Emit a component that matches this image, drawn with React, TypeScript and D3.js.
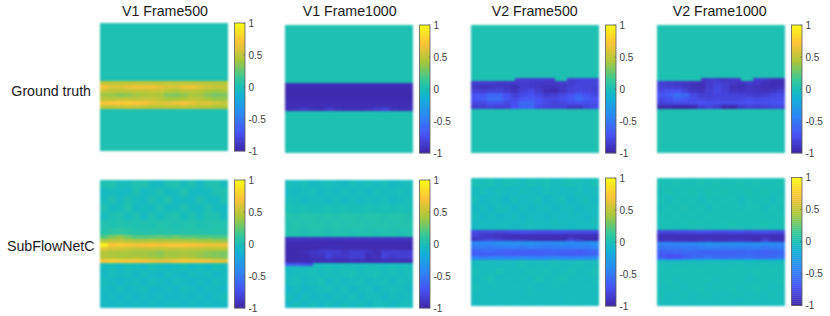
import React from 'react';
import * as d3 from 'd3';

// parula colour anchors and where they sit on the -1..1 scale
const parulaStops = ['#3e26a8', '#4852f4', '#2d87f7', '#12b1d6', '#1abfb5', '#37c897', '#abc739', '#fec338', '#f9fb14'];
const parulaValues = [-1, -0.714, -0.429, -0.143, 0, 0.143, 0.429, 0.714, 1];
const colorbarTicks = [1, 0.5, 0, -0.5, -1];

const titles = ['V1 Frame500', 'V1 Frame1000', 'V2 Frame500', 'V2 Frame1000'];
const rowLabels = ['Ground truth', 'SubFlowNetC'];

// a strip = [first row, last row, values], rows are in heatmap units (0-32 from the top)
type Strip = [number, number, number[][]];

const flat = [[0.02]];

const truthV1F500: Strip[] = [
  [0, 32, flat],
  [14.5, 21.5, [
    [0.5, 0.5, 0.5, 0.51, 0.51, 0.51, 0.5, 0.5, 0.51, 0.51, 0.5, 0.49, 0.49, 0.48, 0.47, 0.46],
    [0.68, 0.6, 0.6, 0.64, 0.66, 0.66, 0.66, 0.62, 0.58, 0.56, 0.64, 0.66, 0.6, 0.56, 0.52, 0.52],
    [0.52, 0.5, 0.5, 0.5, 0.52, 0.52, 0.54, 0.52, 0.46, 0.44, 0.49, 0.5, 0.48, 0.42, 0.4, 0.42],
    [0.4, 0.38, 0.33, 0.35, 0.4, 0.42, 0.44, 0.42, 0.33, 0.31, 0.35, 0.42, 0.4, 0.33, 0.29, 0.31],
    [0.48, 0.48, 0.5, 0.5, 0.5, 0.52, 0.52, 0.48, 0.42, 0.42, 0.44, 0.5, 0.48, 0.42, 0.38, 0.38],
    [0.7, 0.72, 0.74, 0.76, 0.72, 0.7, 0.64, 0.6, 0.62, 0.66, 0.7, 0.64, 0.58, 0.62, 0.56, 0.52],
    [0.5, 0.5, 0.52, 0.54, 0.52, 0.5, 0.48, 0.48, 0.49, 0.49, 0.5, 0.49, 0.48, 0.47, 0.44, 0.44],
  ]],
];

const truthV1F1000: Strip[] = [
  [0, 32, flat],
  [14.5, 21.5, [
    [-0.95, -0.95, -0.95, -0.95, -0.95, -0.95, -0.95, -0.95, -0.95, -0.95, -0.95, -0.95, -0.95, -0.95, -0.95, -0.95],
    [-0.96, -0.96, -0.96, -0.96, -0.96, -0.96, -0.96, -0.96, -0.96, -0.96, -0.96, -0.96, -0.96, -0.96, -0.96, -0.96],
    [-0.97, -0.97, -0.97, -0.97, -0.97, -0.97, -0.97, -0.97, -0.97, -0.97, -0.97, -0.97, -0.97, -0.97, -0.97, -0.97],
    [-0.97, -0.97, -0.97, -0.97, -0.97, -0.97, -0.97, -0.97, -0.97, -0.97, -0.97, -0.97, -0.97, -0.97, -0.97, -0.97],
    [-0.96, -0.96, -0.96, -0.96, -0.96, -0.96, -0.96, -0.96, -0.96, -0.96, -0.96, -0.96, -0.96, -0.96, -0.96, -0.96],
    [-0.95, -0.95, -0.95, -0.95, -0.95, -0.95, -0.95, -0.95, -0.95, -0.95, -0.95, -0.95, -0.95, -0.95, -0.95, -0.95],
    [-0.94, -0.92, -0.9, -0.93, -0.94, -0.88, -0.92, -0.94, -0.94, -0.94, -0.92, -0.88, -0.84, -0.92, -0.94, -0.94],
  ]],
];

const truthV2F500: Strip[] = [
  [0, 32, flat],
  [13.25, 14, [
    [0.02, 0.02, 0.02, 0.02, 0.02, 0.02, 0.02, 0.02, 0.02, 0.02, 0.02, -0.84, -0.84, -0.84, -0.84, -0.84,
      -0.84, -0.84, -0.84, -0.84, -0.84, 0.02, 0.02, 0.02, -0.84, -0.84, -0.82, -0.82, -0.8, -0.8, -0.8, -0.8],
  ]],
  [14, 21, [
    [-0.86, -0.86, -0.86, -0.88, -0.88, -0.88, -0.86, -0.86, -0.88, -0.88, -0.88, -0.86, -0.84, -0.82, -0.8, -0.8],
    [-0.88, -0.92, -0.9, -0.88, -0.9, -0.94, -0.86, -0.86, -0.88, -0.92, -0.94, -0.88, -0.82, -0.8, -0.82, -0.82],
    [-0.82, -0.84, -0.82, -0.82, -0.86, -0.9, -0.82, -0.78, -0.86, -0.94, -0.96, -0.9, -0.82, -0.78, -0.8, -0.82],
    [-0.72, -0.68, -0.6, -0.6, -0.72, -0.82, -0.76, -0.72, -0.78, -0.86, -0.84, -0.78, -0.72, -0.64, -0.72, -0.78],
    [-0.72, -0.66, -0.56, -0.56, -0.7, -0.76, -0.7, -0.66, -0.72, -0.78, -0.78, -0.74, -0.68, -0.58, -0.66, -0.72],
    [-0.78, -0.78, -0.7, -0.72, -0.78, -0.72, -0.58, -0.6, -0.72, -0.78, -0.82, -0.78, -0.74, -0.72, -0.74, -0.74],
    [-0.86, -0.84, -0.82, -0.84, -0.82, -0.72, -0.6, -0.62, -0.76, -0.8, -0.82, -0.82, -0.9, -0.9, -0.8, -0.76],
  ]],
];

const truthV2F1000: Strip[] = [
  [0, 32, flat],
  [13.25, 14, [
    [0.02, 0.02, 0.02, 0.02, 0.02, 0.02, 0.02, 0.02, 0.02, 0.02, 0.02, -0.88, -0.88, -0.86, -0.86, -0.88,
      -0.9, -0.9, -0.88, -0.88, -0.86, 0.02, 0.02, 0.02, -0.84, -0.84, -0.86, -0.88, -0.9, -0.92, -0.92, -0.92],
  ]],
  [14, 21, [
    [-0.84, -0.86, -0.88, -0.9, -0.92, -0.94, -0.86, -0.82, -0.86, -0.88, -0.9, -0.86, -0.88, -0.92, -0.94, -0.94],
    [-0.82, -0.84, -0.84, -0.88, -0.92, -0.94, -0.86, -0.78, -0.84, -0.92, -0.94, -0.9, -0.92, -0.94, -0.94, -0.92],
    [-0.76, -0.72, -0.72, -0.8, -0.88, -0.9, -0.84, -0.78, -0.82, -0.88, -0.9, -0.88, -0.9, -0.92, -0.88, -0.84],
    [-0.7, -0.64, -0.54, -0.58, -0.76, -0.84, -0.84, -0.8, -0.8, -0.82, -0.82, -0.84, -0.86, -0.84, -0.78, -0.76],
    [-0.76, -0.72, -0.64, -0.68, -0.74, -0.78, -0.8, -0.78, -0.8, -0.8, -0.78, -0.76, -0.78, -0.76, -0.74, -0.74],
    [-0.8, -0.78, -0.76, -0.76, -0.74, -0.72, -0.74, -0.74, -0.76, -0.76, -0.74, -0.72, -0.74, -0.74, -0.72, -0.72],
    [-1, -1, -1, -1, -0.98, -0.86, -0.82, -0.86, -0.98, -1, -0.88, -0.84, -0.86, -0.84, -0.8, -0.8],
  ]],
];

const predV1F500: Strip[] = [
  [0, 14, [
    [0.02, 0.03, -0.02, -0.03, 0.02, 0.03, -0.03, -0.05, 0.02, 0.03, -0.03, 0.02, -0.05, 0.02, 0.03, -0.03],
    [-0.05, -0.03, -0.05, -0.06, 0.02, -0.05, -0.03, 0.02, -0.05, -0.03, 0.03, -0.05, -0.06, -0.03, 0.02, 0.03],
    [-0.03, 0.02, -0.05, 0.02, -0.03, -0.06, 0.02, -0.03, 0.03, -0.05, -0.03, -0.06, 0.02, -0.03, -0.05, 0.02],
    [0.02, -0.05, -0.03, 0.03, -0.05, -0.03, -0.05, 0.02, -0.05, -0.03, 0.02, -0.03, -0.05, 0.02, -0.03, -0.05],
    [-0.03, 0.02, 0.03, -0.03, 0.02, -0.05, 0.02, -0.03, 0.02, 0.03, -0.03, 0.02, -0.03, 0.03, 0.02, -0.03],
    [0.03, 0.02, 0.04, 0.03, 0.02, 0.03, 0.02, 0.04, 0.03, 0.02, 0.03, 0.04, 0.02, 0.03, 0.04, 0.03],
    [0.05, 0.08, 0.1, 0.08, 0.05, 0.04, 0.05, 0.05, 0.05, 0.04, 0.05, 0.05, 0.05, 0.04, 0.05, 0.05],
  ]],
  [13.75, 20.75, [
    [0.22, 0.32, 0.38, 0.28, 0.22, 0.22, 0.24, 0.26, 0.24, 0.28, 0.24, 0.24, 0.22, 0.22, 0.2, 0.2],
    [0.46, 0.5, 0.5, 0.46, 0.44, 0.44, 0.46, 0.44, 0.46, 0.46, 0.46, 0.44, 0.42, 0.42, 0.4, 0.38],
    [0.95, 0.72, 0.76, 0.72, 0.68, 0.7, 0.72, 0.7, 0.72, 0.72, 0.72, 0.7, 0.68, 0.66, 0.66, 0.68],
    [0.6, 0.56, 0.54, 0.52, 0.5, 0.5, 0.5, 0.48, 0.5, 0.5, 0.52, 0.5, 0.48, 0.46, 0.46, 0.46],
    [0.46, 0.42, 0.42, 0.42, 0.4, 0.4, 0.38, 0.34, 0.4, 0.4, 0.42, 0.4, 0.38, 0.34, 0.32, 0.3],
    [0.44, 0.44, 0.42, 0.42, 0.44, 0.42, 0.4, 0.38, 0.42, 0.42, 0.44, 0.42, 0.38, 0.36, 0.34, 0.32],
    [0.74, 0.76, 0.76, 0.74, 0.72, 0.72, 0.66, 0.64, 0.66, 0.7, 0.74, 0.74, 0.72, 0.7, 0.66, 0.62],
  ]],
  [20.75, 32, [
    [-0.04, -0.02, -0.06, -0.01, -0.03, -0.05, -0.01, -0.03, -0.05, -0.03, -0.01, -0.05, -0.03, -0.05, -0.01, -0.03],
    [-0.06, -0.03, -0.05, -0.03, -0.07, -0.03, -0.05, -0.08, -0.03, -0.05, -0.07, -0.03, -0.05, -0.03, -0.07, -0.05],
    [-0.03, -0.05, -0.08, -0.05, -0.03, -0.07, -0.03, -0.05, -0.07, -0.03, -0.05, -0.08, -0.05, -0.07, -0.03, -0.05],
    [-0.05, -0.07, -0.03, -0.07, -0.05, -0.03, -0.08, -0.07, -0.05, -0.08, -0.03, -0.05, -0.08, -0.05, -0.05, -0.07],
    [-0.07, -0.05, -0.08, -0.05, -0.08, -0.05, -0.07, -0.05, -0.08, -0.07, -0.05, -0.07, -0.05, -0.08, -0.05, -0.03],
    [-0.05, -0.08, -0.05, -0.07, -0.05, -0.08, -0.05, -0.07, -0.05, -0.05, -0.08, -0.05, -0.07, -0.05, -0.07, -0.05],
  ]],
];

const predV1F1000: Strip[] = [
  [0, 14.25, [
    [-0.02, -0.04, -0.02, -0.05, -0.04, -0.02, -0.04, -0.05, -0.02, -0.04, -0.02, -0.04, -0.02, -0.05, -0.04, -0.02],
    [-0.04, -0.05, -0.03, -0.02, -0.06, -0.03, -0.05, -0.02, -0.05, -0.03, -0.05, -0.02, -0.03, -0.04, -0.02, -0.03],
    [-0.02, -0.03, -0.05, -0.03, -0.04, -0.05, -0.03, -0.05, -0.03, -0.05, -0.03, -0.04, -0.02, -0.05, -0.03, -0.02],
    [0, -0.01, 0, -0.01, -0.01, 0, -0.01, 0, -0.01, -0.01, 0, -0.01, 0, -0.01, 0, -0.01],
    [0.04, 0.03, 0.04, 0.04, 0.03, 0.04, 0.03, 0.04, 0.04, 0.03, 0.04, 0.04, 0.03, 0.04, 0.04, 0.03],
    [0.03, 0.04, 0.03, 0.04, 0.04, 0.03, 0.04, 0.03, 0.04, 0.04, 0.03, 0.04, 0.04, 0.03, 0.04, 0.04],
    [0.03, 0.03, 0.02, 0.03, 0.03, 0.02, 0.03, 0.03, 0.02, 0.03, 0.03, 0.02, 0.03, 0.03, 0.02, 0.03],
  ]],
  [14.25, 20.75, [
    [-0.92, -0.92, -0.92, -0.92, -0.92, -0.92, -0.92, -0.92, -0.92, -0.92, -0.92, -0.92, -0.92, -0.92, -0.92, -0.92],
    [-0.96, -0.96, -0.96, -0.96, -0.96, -0.96, -0.96, -0.96, -0.96, -0.96, -0.96, -0.96, -0.96, -0.96, -0.96, -0.96],
    [-0.97, -0.97, -0.97, -0.96, -0.95, -0.94, -0.94, -0.95, -0.95, -0.95, -0.95, -0.96, -0.96, -0.96, -0.96, -0.96],
    [-0.97, -0.97, -0.94, -0.88, -0.86, -0.82, -0.84, -0.9, -0.84, -0.84, -0.9, -0.94, -0.84, -0.84, -0.84, -0.84],
    [-0.97, -0.97, -0.96, -0.92, -0.9, -0.82, -0.88, -0.88, -0.84, -0.84, -0.94, -0.92, -0.82, -0.86, -0.84, -0.84],
    [-0.97, -0.97, -0.96, -0.95, -0.96, -0.94, -0.96, -0.96, -0.94, -0.95, -0.96, -0.96, -0.95, -0.95, -0.95, -0.95],
  ]],
  [20.75, 32, [
    [-0.05, -0.03, -0.03, -0.02, -0.03, -0.02, -0.03, -0.02, -0.02, -0.03, -0.02, -0.02, -0.03, -0.02, -0.03, -0.02],
    [-0.05, -0.03, -0.03, -0.02, -0.03, -0.02, -0.03, -0.02, 0, -0.03, -0.02, 0, -0.03, -0.02, -0.03, -0.02],
    [-0.03, -0.02, -0.05, -0.03, 0, -0.05, -0.03, -0.05, -0.03, -0.02, -0.05, -0.03, -0.02, -0.05, -0.02, -0.03],
    [-0.07, -0.03, -0.08, -0.05, -0.03, -0.02, -0.05, -0.02, -0.07, -0.03, -0.02, -0.07, -0.03, -0.02, -0.03, -0.05],
    [-0.03, -0.08, -0.03, -0.07, -0.05, -0.07, -0.03, -0.05, -0.02, -0.07, -0.03, -0.03, -0.07, -0.03, -0.05, -0.03],
    [-0.07, -0.03, -0.07, -0.03, -0.08, -0.03, -0.07, -0.03, -0.05, -0.03, -0.07, -0.02, -0.03, -0.07, -0.03, -0.02],
  ]],
  // the small blue sliver under the band on the left
  [20.75, 21.5, [
    [-0.66, -0.66, -0.68, -0.7, -0.72, -0.74, -0.76, -0.05, -0.03, -0.03, -0.02, -0.03, -0.02, -0.03, -0.02, -0.02,
      -0.03, -0.02, -0.02, -0.03, -0.02, -0.03, -0.02, -0.02, -0.03, -0.02, -0.03, -0.02, -0.02, -0.03, -0.02, -0.02],
  ]],
];

const predV2F500: Strip[] = [
  [0, 13, [
    [0, -0.02, 0, -0.04, 0, -0.02, -0.04, 0, -0.02, 0, -0.04, -0.02, 0, -0.02, -0.04, 0],
    [-0.04, -0.02, -0.05, -0.02, -0.04, -0.05, -0.02, -0.04, -0.05, -0.02, -0.04, -0.05, -0.04, -0.02, -0.05, -0.04],
    [-0.02, -0.07, -0.04, -0.04, -0.07, -0.02, -0.05, -0.04, -0.02, -0.07, -0.04, -0.02, -0.07, -0.04, -0.02, -0.05],
    [-0.05, -0.04, -0.07, -0.02, -0.04, -0.07, -0.04, -0.07, -0.04, -0.04, -0.07, -0.04, -0.04, -0.07, -0.04, -0.04],
    [-0.04, -0.07, -0.04, -0.07, -0.05, -0.04, -0.07, -0.04, -0.05, -0.07, -0.04, -0.05, -0.04, -0.05, -0.07, -0.04],
    [-0.05, -0.04, -0.05, -0.04, -0.04, -0.05, -0.04, -0.02, -0.04, -0.04, -0.02, -0.04, -0.05, -0.04, -0.04, -0.02],
  ]],
  [13, 20.5, [
    [-0.78, -0.8, -0.8, -0.8, -0.8, -0.76, -0.76, -0.76, -0.78, -0.78, -0.76, -0.76, -0.78, -0.78, -0.78, -0.78],
    [-0.82, -0.88, -0.9, -0.92, -0.94, -0.94, -0.94, -0.94, -0.94, -0.94, -0.94, -0.94, -0.94, -0.94, -0.94, -0.94],
    [-0.92, -0.84, -0.8, -0.84, -0.88, -0.9, -0.92, -0.94, -0.96, -0.96, -0.96, -0.96, -0.84, -0.9, -0.96, -0.96],
    [-0.42, -0.42, -0.4, -0.36, -0.34, -0.36, -0.34, -0.34, -0.38, -0.4, -0.38, -0.36, -0.4, -0.42, -0.38, -0.36],
    [-0.5, -0.48, -0.5, -0.46, -0.46, -0.44, -0.5, -0.44, -0.46, -0.5, -0.48, -0.48, -0.46, -0.44, -0.46, -0.42],
    [-0.62, -0.6, -0.58, -0.62, -0.64, -0.64, -0.62, -0.66, -0.64, -0.62, -0.6, -0.62, -0.64, -0.66, -0.62, -0.6],
    [-0.66, -0.68, -0.66, -0.64, -0.66, -0.68, -0.66, -0.64, -0.66, -0.64, -0.64, -0.66, -0.66, -0.66, -0.64, -0.62],
    [-0.42, -0.46, -0.44, -0.42, -0.44, -0.42, -0.4, -0.42, -0.44, -0.42, -0.4, -0.42, -0.44, -0.42, -0.4, -0.38],
  ]],
  [20.5, 32, [
    [-0.03, -0.02, -0.03, -0.04, -0.02, -0.03, 0, -0.03, -0.02, -0.03, 0, -0.03, -0.02, 0, -0.03, -0.02],
    [0, -0.03, -0.02, 0, -0.03, -0.02, -0.03, 0, -0.02, 0, -0.03, -0.02, 0, -0.03, -0.02, 0],
    [-0.03, -0.02, 0, -0.04, -0.02, -0.03, -0.02, -0.03, 0, -0.03, -0.02, 0, -0.03, -0.02, -0.03, -0.02],
    [-0.02, -0.04, -0.03, -0.02, -0.04, -0.02, -0.03, -0.02, -0.04, -0.03, -0.02, -0.03, -0.02, -0.04, -0.02, -0.03],
    [-0.03, -0.02, -0.04, -0.03, -0.02, -0.03, -0.04, -0.02, -0.03, -0.02, -0.04, -0.03, -0.03, -0.02, -0.03, -0.04],
    [-0.04, -0.03, -0.02, -0.04, -0.03, -0.04, -0.02, -0.03, -0.04, -0.03, -0.03, -0.04, -0.02, -0.03, -0.04, -0.03],
  ]],
];

const predV2F1000: Strip[] = [
  [0, 13, [
    [0.01, 0, 0.01, 0, -0.01, 0.01, 0, 0.01, -0.01, 0, 0.01, 0, 0.01, 0, 0, 0.01],
    [-0.01, 0.01, -0.01, 0, 0.01, -0.01, 0.01, 0, 0.01, -0.01, 0, 0.01, -0.01, 0.01, 0, -0.01],
    [0, -0.03, 0, -0.01, 0, -0.03, 0, -0.01, 0, 0, -0.03, 0, -0.01, 0, -0.03, 0],
    [-0.01, 0, -0.01, 0.01, -0.01, 0, -0.03, 0, -0.01, 0, -0.01, 0, 0, -0.03, 0, -0.01],
    [0, -0.01, 0, -0.01, 0, -0.01, 0, 0, -0.01, 0, 0, -0.01, 0, 0, -0.01, 0],
    [0, 0, -0.01, 0, 0.01, 0, -0.01, 0, 0, 0.01, 0, -0.01, 0, 0.01, 0, 0],
  ]],
  [13, 20.25, [
    [-0.8, -0.8, -0.78, -0.78, -0.78, -0.76, -0.76, -0.78, -0.78, -0.76, -0.76, -0.78, -0.76, -0.76, -0.78, -0.78],
    [-0.94, -0.94, -0.94, -0.94, -0.94, -0.94, -0.94, -0.94, -0.94, -0.94, -0.94, -0.94, -0.94, -0.94, -0.94, -0.94],
    [-0.9, -0.9, -0.92, -0.92, -0.94, -0.92, -0.9, -0.92, -0.92, -0.9, -0.9, -0.92, -0.94, -0.84, -0.92, -0.94],
    [-0.44, -0.44, -0.42, -0.4, -0.4, -0.38, -0.34, -0.34, -0.36, -0.34, -0.36, -0.38, -0.36, -0.38, -0.38, -0.4],
    [-0.54, -0.52, -0.52, -0.5, -0.52, -0.48, -0.46, -0.48, -0.5, -0.48, -0.5, -0.5, -0.48, -0.52, -0.5, -0.48],
    [-0.64, -0.62, -0.6, -0.58, -0.58, -0.62, -0.64, -0.62, -0.62, -0.64, -0.62, -0.6, -0.62, -0.64, -0.62, -0.6],
    [-0.66, -0.72, -0.72, -0.66, -0.6, -0.58, -0.56, -0.58, -0.6, -0.58, -0.58, -0.56, -0.6, -0.6, -0.58, -0.56],
  ]],
  [20.25, 32, [
    [0, -0.02, -0.02, -0.01, 0, -0.02, -0.01, 0, -0.02, -0.01, 0, -0.02, -0.01, 0, -0.02, -0.01],
    [0, -0.01, 0, 0, -0.01, 0, -0.01, 0, -0.01, 0, 0, -0.01, 0, -0.01, 0, -0.01],
    [-0.01, 0, -0.02, 0, -0.01, 0, 0, -0.02, 0, -0.01, 0, -0.02, -0.01, 0, -0.01, 0],
    [-0.02, -0.01, -0.01, -0.02, -0.01, 0, -0.02, -0.01, -0.01, 0, -0.02, -0.01, 0, -0.01, -0.02, -0.01],
    [-0.01, -0.02, -0.02, -0.01, -0.02, -0.01, -0.01, -0.02, -0.02, -0.01, -0.01, -0.02, -0.01, -0.02, -0.01, -0.02],
    [-0.02, -0.03, -0.02, -0.02, -0.03, -0.02, -0.02, -0.03, -0.02, -0.02, -0.03, -0.02, -0.02, -0.03, -0.02, -0.02],
  ]],
  // soft edge right under the band
  [20.25, 20.75, [
    [-0.22, -0.26, -0.26, -0.22, -0.18, -0.16, -0.16, -0.17, -0.18, -0.16, -0.16, -0.17, -0.18, -0.16, -0.16, -0.15],
  ]],
];

const panelData = [truthV1F500, truthV1F1000, truthV2F500, truthV2F1000, predV1F500, predV1F1000, predV2F500, predV2F1000];

// pixel layout of the panels, left edge by column and top edge by panel
const panelLeft = [100, 285, 471, 657];
const panelTop = [23, 25, 25, 25, 180, 180, 178, 177.5];
const panelSize = 128;
const barGap = 6.5;
const barWidth = 10.5;
const titleY = 15.8;
const titleCenter = [165, 349.7, 534.7, 719.7];
const labelRight = [91, 94.5];
const labelY = [96, 251];

const color = d3.scaleLinear<string>()
  .domain(parulaValues)
  .range(parulaStops)
  .interpolate(d3.interpolateRgb)
  .clamp(true);

const tickFill = '#404040';
const fontFamily = '"Liberation Sans", Arial, sans-serif';

const Heatmap = ({ strips, x0, y0, index }: { strips: Strip[]; x0: number; y0: number; index: number }) => {
  const yScale = d3.scaleLinear().domain([0, 32]).range([y0, y0 + panelSize]);
  return (
    <g filter="url(#soft)">
      {strips.map(([from, to, rows], s) => {
        const rowScale = d3.scaleBand<number>()
          .domain(d3.range(rows.length))
          .range([yScale(from), yScale(to)]);
        return rows.map((row, r) => {
          const colScale = d3.scaleBand<number>()
            .domain(d3.range(row.length))
            .range([x0, x0 + panelSize]);
          return row.map((v, c) => (
            <rect
              key={`${index}-${s}-${r}-${c}`}
              x={colScale(c)}
              y={rowScale(r)}
              width={colScale.bandwidth()}
              height={rowScale.bandwidth()}
              fill={color(v)}
              shapeRendering="crispEdges"
            />
          ));
        });
      })}
    </g>
  );
};

const Colorbar = ({ x0, y0 }: { x0: number; y0: number }) => {
  const yScale = d3.scaleLinear().domain([1, -1]).range([y0, y0 + panelSize]);
  const steps = d3.range(64).map(i => 1 - (2 * (i + 0.5)) / 64);
  const stepH = panelSize / 64;
  return (
    <g>
      {steps.map((v, i) => (
        <rect key={i} x={x0} y={y0 + i * stepH} width={barWidth} height={stepH + 0.3} fill={color(v)} />
      ))}
      <rect x={x0} y={y0} width={barWidth} height={panelSize} fill="none" stroke="#5a5a5a" strokeWidth={0.8} />
      {colorbarTicks.map(t => (
        <g key={t}>
          <line x1={x0 + barWidth - 1.5} x2={x0 + barWidth} y1={yScale(t)} y2={yScale(t)} stroke="#5a5a5a" strokeWidth={0.6} />
          <text x={x0 + barWidth + 3.5} y={yScale(t) + 3.5} fontSize={10} fill={tickFill} fontFamily={fontFamily}>
            {t}
          </text>
        </g>
      ))}
    </g>
  );
};

const App = () => (
  <svg width={830} height={316} style={{ position: 'absolute', left: 0, top: 0 }}>
    <defs>
      <filter id="soft" x="-5%" y="-5%" width="110%" height="110%" colorInterpolationFilters="sRGB">
        <feGaussianBlur stdDeviation={0.9} />
      </filter>
    </defs>
    <rect width={830} height={316} fill="#ffffff" />
    {titles.map((t, i) => (
      <text key={t} x={titleCenter[i]} y={titleY} textAnchor="middle" fontSize={14.2} fill="#1a1a1a" fontFamily={fontFamily}>
        {t}
      </text>
    ))}
    {rowLabels.map((t, i) => (
      <text key={t} x={labelRight[i]} y={labelY[i]} textAnchor="end" fontSize={14.2} fill="#1a1a1a" fontFamily={fontFamily}>
        {t}
      </text>
    ))}
    {panelData.map((strips, i) => {
      const x0 = panelLeft[i % 4];
      const y0 = panelTop[i];
      return (
        <g key={i}>
          <Heatmap strips={strips} x0={x0} y0={y0} index={i} />
          <Colorbar x0={x0 + panelSize + barGap} y0={y0} />
        </g>
      );
    })}
  </svg>
);

export default App;
